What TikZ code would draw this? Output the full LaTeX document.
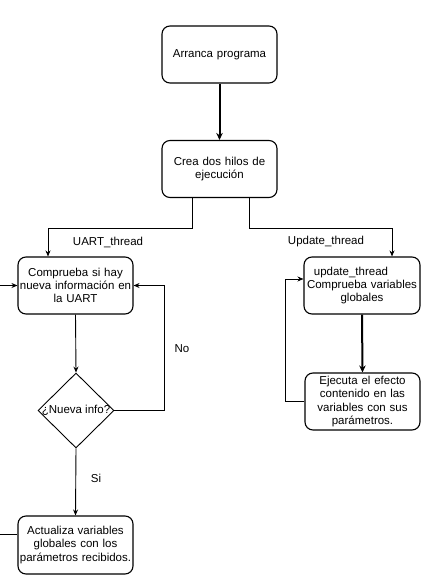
\documentclass[tikz,border=0pt]{standalone}
\usepackage{fontspec}
\setmainfont{Liberation Sans}
\usetikzlibrary{arrows.meta,shapes.geometric}
\begin{document}
\begin{tikzpicture}[x=1pt,y=-1pt,
  box/.style={draw,line width=1.1pt,rounded corners=8pt,minimum width=115pt,minimum height=57pt,inner sep=0pt,text width=115pt,align=center,font=\fontsize{11.5}{13.2}\selectfont},
  conn/.style={line width=0.9pt,-{Stealth[length=6pt,width=5pt]}},
  thick conn/.style={line width=2pt,-{Stealth[length=7pt,width=6.5pt]}},
  lbl/.style={font=\fontsize{11.5}{13.2}\selectfont,inner sep=0pt}]
\useasboundingbox (0,0) rectangle (421,575);
\clip (0,0) rectangle (421,575);
\node[box] (b1) at (219.5,54.5) {Arranca programa};
\node[box] (b2) at (219.5,169) {Crea dos hilos de\\ejecución};
\node[box] (b3) at (75.5,285.5) {Comprueba si hay\\nueva información en\\la UART};
\node[draw,line width=0.9pt,diamond,minimum width=76pt,minimum height=75pt,inner sep=0pt] (d) at (76,410.5) {};
\node[lbl] (dl) at (76,410) {¿Nueva info?};
\node[box,minimum height=58pt] (b6) at (75.5,545) {Actualiza variables\\globales con los\\parámetros recibidos.};
\node[box,minimum width=116pt] (b4) at (362,285.5) {update\_thread\rule{22pt}{0pt}\\Comprueba variables\\globales\\[3pt]};
\node[box] (b5) at (362.5,401.5) {Ejecuta el efecto\\contenido en las\\variables con sus\\parámetros.};
\node[lbl] (uart) at (108,242) {UART\_thread};
\node[lbl] (upd) at (326,242) {Update\_thread};
\node[lbl] (no) at (182,349) {No};
\node[lbl] (si) at (96,478) {Si};
\draw[thick conn] (b1) -- (b2);
\draw[conn] ([xshift=-27.5pt]b2.south) -- ++(0,30) -| ([xshift=-27.5pt]b3.north);
\draw[conn] ([xshift=29.5pt]b2.south) -- ++(0,30) -| ([xshift=30pt]b4.north);
\draw[conn] (b3.south) -- (d.north);
\draw[conn] (d.east) -- ++(50,0) |- (b3.east);
\draw[conn] (d.south) -- (b6.north);
\draw[conn] ([yshift=11pt]b6.west) -- ++(-30,0) |- (b3.west);
\draw[thick conn] (b4.south) -- (b5.north);
\draw[conn] (b5.west) -- ++(-19,0) |- ([yshift=6.5pt]b4.west);
\end{tikzpicture}
\end{document}
